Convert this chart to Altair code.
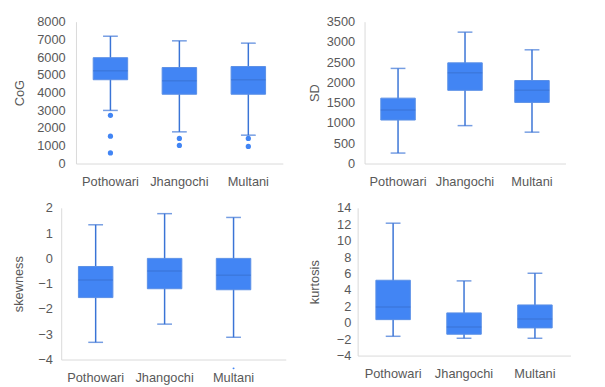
import altair as alt
import pandas as pd

groups = ["Pothowari", "Jhangochi", "Multani"]

cog_low = [2995, 1786, 1600]
cog_q1 = [4725, 3907, 3907]
cog_median = [5230, 4670, 4725]
cog_q3 = [5970, 5414, 5470]
cog_high = [7180, 6920, 6790]
cog_out_group = ["Pothowari", "Pothowari", "Pothowari", "Jhangochi", "Jhangochi", "Multani", "Multani"]
cog_out_value = [2716, 1544, 595, 1414, 1023, 1414, 967]
cog_ticks = [0, 1000, 2000, 3000, 4000, 5000, 6000, 7000, 8000]

sd_low = [258, 935, 774]
sd_q1 = [1073, 1806, 1508]
sd_median = [1323, 2242, 1806]
sd_q3 = [1613, 2484, 2048]
sd_high = [2347, 3242, 2806]
sd_ticks = [0, 500, 1000, 1500, 2000, 2500, 3000, 3500]

skew_low = [-3.32, -2.60, -3.12]
skew_q1 = [-1.55, -1.20, -1.24]
skew_median = [-0.85, -0.50, -0.67]
skew_q3 = [-0.32, 0.0, 0.0]
skew_high = [1.33, 1.77, 1.62]
skew_out_group = ["Multani"]
skew_out_value = [-4.35]
skew_ticks = [-4, -3, -2, -1, 0, 1, 2]

kurt_low = [-1.65, -1.89, -1.89]
kurt_q1 = [0.38, -1.40, -0.63]
kurt_median = [1.93, -0.51, 0.46]
kurt_q3 = [5.18, 1.20, 2.17]
kurt_high = [12.13, 5.10, 6.03]
kurt_ticks = [-4, -2, 0, 2, 4, 6, 8, 10, 12, 14]

FONT = "Liberation Sans"
FILL = "#4285F4"
EDGE = "#5A8FE6"
STROKE = "#3A74D6"
TEXT = "#595959"
AXIS = "#D9D9D9"


def panel(title, low, q1, med, q3, high, ticks, width, height, band_range,
          label_pad, title_pad, out_g=None, out_v=None, out_size=28,
          shift=0):
    df = pd.DataFrame({"group": groups, "low": low, "q1": q1, "median": med,
                       "q3": q3, "high": high})
    span = band_range + shift
    pad_outer = (span / 70.0 - 3) / 2 if shift else 0
    xscale = alt.Scale(domain=groups, range=[-shift, band_range],
                       paddingInner=0, paddingOuter=pad_outer, align=0)
    xenc = alt.X("group:N", sort=groups, scale=xscale,
                 axis=alt.Axis(title=None, labelAngle=0, ticks=False, tickSize=0,
                               domainColor=AXIS, labelPadding=12))
    yscale = alt.Scale(domain=[ticks[0], ticks[-1]], nice=False, zero=False)
    yaxis = alt.Axis(values=ticks, title=title, ticks=False, tickSize=0, format="d",
                     domainColor=AXIS, labelPadding=label_pad, offset=shift,
                     titlePadding=title_pad, grid=False)

    def yy(field):
        return alt.Y(field, scale=yscale, axis=yaxis)

    base = alt.Chart(df)
    whisker = base.mark_rule(color=STROKE, strokeWidth=1.5).encode(
        x=xenc, y=yy("low:Q"), y2="high:Q")
    box = base.mark_bar(size=35, color=FILL, stroke=EDGE, strokeWidth=1).encode(
        x=xenc, y=yy("q1:Q"), y2="q3:Q")
    median = base.mark_tick(size=35, thickness=1.5, color=STROKE,
                            orient="horizontal").encode(x=xenc, y=yy("median:Q"))
    cap_lo = base.mark_tick(size=15, thickness=1.5, color=STROKE,
                            orient="horizontal").encode(x=xenc, y=yy("low:Q"))
    cap_hi = base.mark_tick(size=15, thickness=1.5, color=STROKE,
                            orient="horizontal").encode(x=xenc, y=yy("high:Q"))
    layers = [whisker, box, median, cap_lo, cap_hi]
    if out_g:
        odf = pd.DataFrame({"group": out_g, "value": out_v})
        pts = alt.Chart(odf).mark_circle(size=out_size, color=FILL, opacity=1).encode(
            x=xenc, y=yy("value:Q"))
        layers.append(pts)
    return alt.layer(*layers).properties(width=width, height=height)


p1 = panel("CoG", cog_low, cog_q1, cog_median, cog_q3, cog_high, cog_ticks,
           215, 144, 210, 11, 10, cog_out_group, cog_out_value)
p2 = panel("SD", sd_low, sd_q1, sd_median, sd_q3, sd_high, sd_ticks,
           234, 144, 204, 10, 5)
p3 = panel("skewness", skew_low, skew_q1, skew_median, skew_q3, skew_high, skew_ticks,
           228, 154, 213, 9, 12, skew_out_group, skew_out_value, 4, shift=15)
p4 = panel("kurtosis", kurt_low, kurt_q1, kurt_median, kurt_q3, kurt_high, kurt_ticks,
           243, 150, 216, 7, 15)

chart = alt.concat(p1, p2, p3, p4, columns=2, align="none",
                   spacing={"row": 14, "column": 8}).properties(
    padding={"left": 5, "top": 5, "right": 0, "bottom": 0}
).configure_view(stroke=None).configure_axis(
    labelFont=FONT, titleFont=FONT, labelFontSize=13, titleFontSize=13,
    labelColor=TEXT, titleColor=TEXT, titleFontWeight="normal"
)

chart.save("out.html", embed_options={"renderer": "svg", "actions": False})
